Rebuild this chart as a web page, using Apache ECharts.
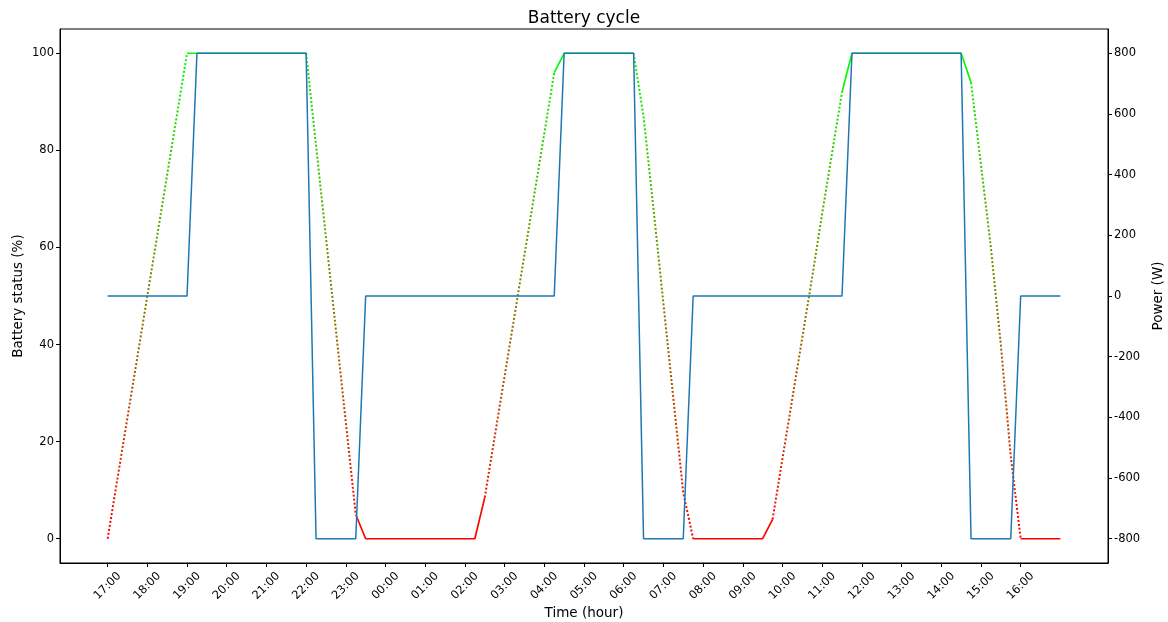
<!DOCTYPE html>
<html>
<head>
<meta charset="utf-8">
<script src="https://cdn.jsdelivr.net/npm/echarts@6/dist/echarts.min.js"></script>
<style>
html,body{margin:0;padding:0;background:#fff;}
#chart{width:1168px;height:622px;}
</style>
</head>
<body>
<div id="chart"></div>
<script>
// ---- data (15-minute samples) ----
const times = [
  '17:00','17:15','17:30','17:45','18:00','18:15','18:30','18:45',
  '19:00','19:15','19:30','19:45','20:00','20:15','20:30','20:45',
  '21:00','21:15','21:30','21:45','22:00','22:15','22:30','22:45',
  '23:00','23:15','23:30','23:45','00:00','00:15','00:30','00:45',
  '01:00','01:15','01:30','01:45','02:00','02:15','02:30','02:45',
  '03:00','03:15','03:30','03:45','04:00','04:15','04:30','04:45',
  '05:00','05:15','05:30','05:45','06:00','06:15','06:30','06:45',
  '07:00','07:15','07:30','07:45','08:00','08:15','08:30','08:45',
  '09:00','09:15','09:30','09:45','10:00','10:15','10:30','10:45',
  '11:00','11:15','11:30','11:45','12:00','12:15','12:30','12:45',
  '13:00','13:15','13:30','13:45','14:00','14:15','14:30','14:45',
  '15:00','15:15','15:30','15:45','16:00','16:15','16:30','16:45',
  '17:00'
];
const power = [
  0,0,0,0,0,0,0,0,0,
  800,800,800,800,800,800,800,800,800,800,800,800,
  -800,-800,-800,-800,-800,
  0,0,0,0,0,0,0,0,0,0,0,0,0,0,0,0,0,0,0,0,
  800,800,800,800,800,800,800,800,
  -800,-800,-800,-800,-800,
  0,0,0,0,0,0,0,0,0,0,0,0,0,0,0,0,
  800,800,800,800,800,800,800,800,800,800,800,800,
  -800,-800,-800,-800,-800,
  0,0,0,0,0
];
const battery = [
  0,12.5,25,37.5,50,62.5,75,87.5,100,
  100,100,100,100,100,100,100,100,100,100,100,100,
  81,62,43,24,5,0,
  0,0,0,0,0,0,0,0,0,0,0,
  8.5,21,33.5,46,58.5,71,83.5,96,
  100,100,100,100,100,100,100,100,
  87,68,48.5,29,9.5,0,
  0,0,0,0,0,0,0,
  4,16.5,29,41.5,54,67,79.5,92,
  100,100,100,100,100,100,100,100,100,100,100,100,
  94,77,60,40,17,0,
  0,0,0,0
];
// spans where the battery line is drawn dotted
const dottedSpans = [
  ['17:00','19:00'],['22:00','23:15'],['02:30','04:15'],
  ['06:15','07:45'],['09:45','11:30'],['14:45','16:00']
];
const tickLabels = ['17:00','18:00','19:00','20:00','21:00','22:00','23:00','00:00',
  '01:00','02:00','03:00','04:00','05:00','06:00','07:00','08:00','09:00','10:00',
  '11:00','12:00','13:00','14:00','15:00','16:00'];
const batteryTicks = [0,20,40,60,80,100];
const powerTicks = [-800,-600,-400,-200,0,200,400,600,800];

// ---- helpers ----
function toMinutes(list){
  const out=[]; let prev=-Infinity, off=0;
  for(const t of list){
    const p=t.split(':').map(Number);
    let v=p[0]*60+p[1]-1020; if(v<0) v+=1440; v+=off;
    if(v<prev){off+=1440; v+=1440;}
    out.push(v); prev=v;
  }
  return out;
}
const xs = toMinutes(times);
const tickPos = toMinutes(tickLabels);
const segDotted = new Array(times.length-1).fill(false);
for(const [a,b] of dottedSpans){
  const s=times.indexOf(a); const e=times.indexOf(b,s);
  for(let k=s;k<e;k++) segDotted[k]=true;
}
const solidData=[], dottedData=[], powerData=[];
for(let i=0;i<times.length;i++){
  const prevSeg = i>0 ? segDotted[i-1] : undefined;
  const nextSeg = i<times.length-1 ? segDotted[i] : undefined;
  solidData.push([xs[i], (prevSeg===false||nextSeg===false)? battery[i] : '-']);
  dottedData.push([xs[i], (prevSeg===true||nextSeg===true)? battery[i] : '-']);
  powerData.push([xs[i], power[i]]);
}

const FONT='DejaVu Sans';
const chart = echarts.init(document.getElementById('chart'), null, {renderer:'canvas'});
chart.setOption({
  animation:false,
  backgroundColor:'#fff',
  title:{text:'Battery cycle', left:'center', top:5,
    textStyle:{fontFamily:FONT,fontSize:17,fontWeight:'normal',color:'#000'}},
  grid:{left:60,right:60,top:29,bottom:59,show:true,borderColor:'#000',borderWidth:1,
    containLabel:false,outerBoundsMode:'none'},
  visualMap:{type:'continuous',show:false,dimension:1,min:0,max:100,seriesIndex:[0,1],
    inRange:{color:['#ff0000','#00ff00']}},
  xAxis:{type:'value',min:-72,max:1512,
    axisLine:{show:true,onZero:false,lineStyle:{color:'#000',width:1}},
    axisTick:{show:true,customValues:tickPos,length:4,lineStyle:{color:'#000',width:1}},
    axisLabel:{customValues:tickPos,formatter:(v)=>tickLabels[tickPos.indexOf(v)],
      rotate:45,align:'center',verticalAlign:'middle',margin:23,
      fontFamily:FONT,fontSize:11.5,color:'#000'},
    splitLine:{show:false},
    name:'Time (hour)',nameLocation:'middle',nameGap:43,nameMoveOverlap:false,
    nameTextStyle:{fontFamily:FONT,fontSize:13.5,color:'#000'}},
  yAxis:[
    {type:'value',min:-5,max:105,position:'left',
      axisLine:{show:true,onZero:false,lineStyle:{color:'#000',width:1}},
      axisTick:{show:true,customValues:batteryTicks,length:4,lineStyle:{color:'#000'}},
      axisLabel:{customValues:batteryTicks,fontFamily:FONT,fontSize:11.5,color:'#000',margin:6},
      splitLine:{show:false},
      name:'Battery status (%)',nameLocation:'middle',nameGap:35,nameMoveOverlap:false,
      nameTextStyle:{fontFamily:FONT,fontSize:13.5,color:'#000'}},
    {type:'value',min:-880,max:880,position:'right',
      axisLine:{show:true,onZero:false,lineStyle:{color:'#000',width:1}},
      axisTick:{show:true,customValues:powerTicks,length:4,lineStyle:{color:'#000'}},
      axisLabel:{customValues:powerTicks,fontFamily:FONT,fontSize:11.5,color:'#000',margin:6},
      splitLine:{show:false},
      name:'Power (W)',nameLocation:'middle',nameGap:43,nameRotate:90,nameMoveOverlap:false,
      nameTextStyle:{fontFamily:FONT,fontSize:13.5,color:'#000'}}
  ],
  series:[
    {name:'Battery',type:'line',yAxisIndex:0,data:solidData,showSymbol:false,z:2,
      connectNulls:false,lineStyle:{width:1.7,type:'solid'}},
    {name:'Battery dotted',type:'line',yAxisIndex:0,data:dottedData,showSymbol:false,z:2,
      connectNulls:false,lineStyle:{width:2,type:[2,2],cap:'butt'}},
    {name:'Power',type:'line',yAxisIndex:1,data:powerData,showSymbol:false,z:3,
      lineStyle:{width:1.5,color:'#1f77b4',opacity:1},itemStyle:{color:'#1f77b4'}}
  ]
});
</script>
</body>
</html>
